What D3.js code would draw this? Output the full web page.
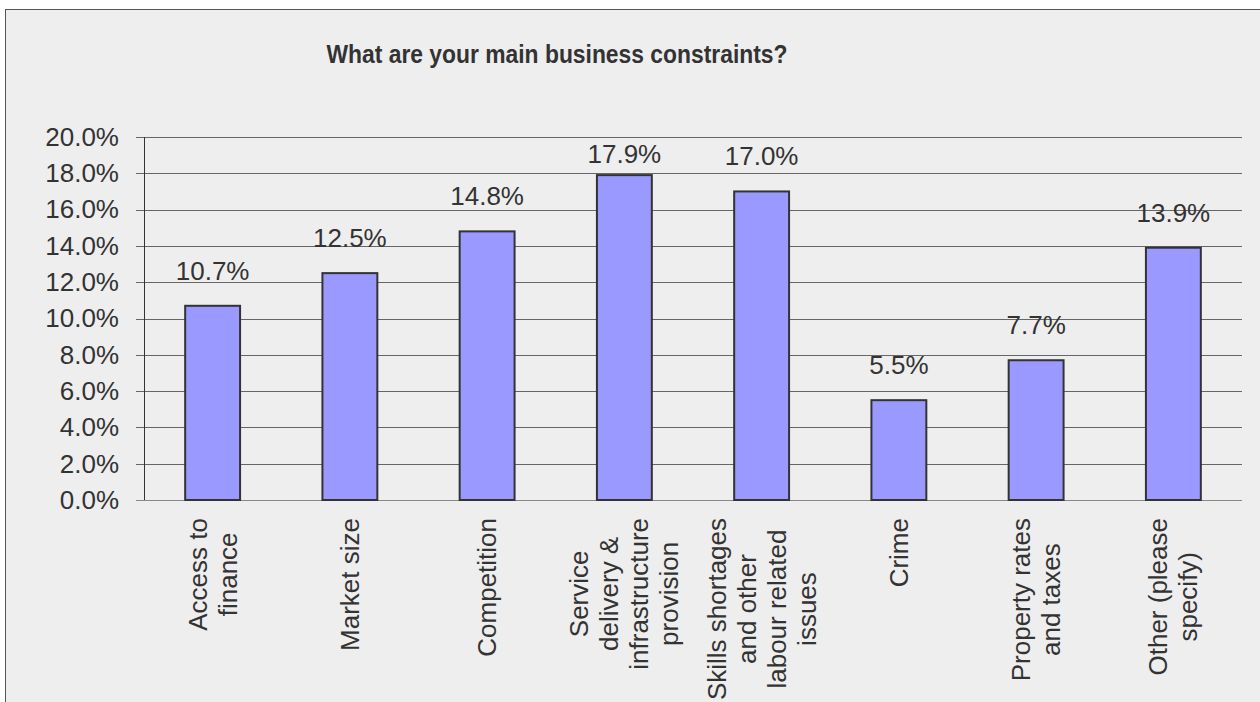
<!DOCTYPE html>
<html>
<head>
<meta charset="utf-8">
<script src="https://cdn.jsdelivr.net/npm/d3@7"></script>
<style>
  body { margin: 0; background: #fff; }
  text { font-family: "Liberation Sans", Arial, sans-serif; fill: #333; }
</style>
</head>
<body>
<svg id="chart" width="1260" height="702"></svg>
<script>
// chart data
const categories = [
    ["Access to", "finance"],
    ["Market size"],
    ["Competition"],
    ["Service", "delivery &", "infrastructure", "provision"],
    ["Skills shortages", "and other", "labour related", "issues"],
    ["Crime"],
    ["Property rates", "and taxes"],
    ["Other (please", "specify)"]
];
const values = [10.7, 12.5, 14.8, 17.9, 17.0, 5.5, 7.7, 13.9];
const yTicks = [0, 2, 4, 6, 8, 10, 12, 14, 16, 18, 20];
const title = "What are your main business constraints?";

const svg = d3.select("#chart");
const margin = { top: 137, right: 18, bottom: 202, left: 144 };
const width = 1260, height = 702;
const innerW = width - margin.left - margin.right;
const innerH = height - margin.top - margin.bottom;
const fs = 26;

// frame
svg.append("rect")
    .attr("x", 5.5).attr("y", 9.5)
    .attr("width", 1270).attr("height", 720)
    .attr("fill", "#eeeeee")
    .attr("stroke", "#555").attr("stroke-width", 1);

svg.append("text")
    .attr("x", 557).attr("y", 63)
    .attr("text-anchor", "middle")
    .attr("font-size", 25)
    .attr("font-weight", "bold")
    .attr("textLength", 461)
    .attr("lengthAdjust", "spacingAndGlyphs")
    .text(title);

const keys = categories.map((d, i) => i);
const x = d3.scaleBand().domain(keys).range([0, innerW]).paddingInner(0.6).paddingOuter(0.3);
const y = d3.scaleLinear().domain([0, 20]).range([innerH, 0]);

const g = svg.append("g").attr("transform", `translate(${margin.left},${margin.top})`);

// grid lines
g.append("g").selectAll("line")
    .data(yTicks)
    .join("line")
    .attr("x1", -8).attr("x2", innerW)
    .attr("y1", d => Math.round(y(d)) + 0.5).attr("y2", d => Math.round(y(d)) + 0.5)
    .attr("stroke", d => d === 0 ? "#888" : "#666").attr("stroke-width", 1);

// y axis
const yAxis = d3.axisLeft(y).tickValues(yTicks).tickSize(0).tickPadding(25)
    .tickFormat(d => d.toFixed(1) + "%");
const ya = g.append("g").call(yAxis);
ya.select(".domain").attr("stroke", "#333").attr("d", `M0.5,0V${innerH}`);
ya.selectAll("text").attr("font-size", fs).attr("fill", "#333")
    .attr("font-family", "Liberation Sans, Arial, sans-serif");

// bars
g.selectAll("rect.bar")
    .data(values)
    .join("rect")
    .attr("class", "bar")
    .attr("x", (d, i) => x(i))
    .attr("y", d => y(d))
    .attr("width", x.bandwidth())
    .attr("height", d => innerH - y(d))
    .attr("fill", "#9999ff")
    .attr("stroke", "#333").attr("stroke-width", 2);

// value labels, kept inside the plot top
g.selectAll("text.val")
    .data(values)
    .join("text")
    .attr("class", "val")
    .attr("x", (d, i) => x(i) + x.bandwidth() / 2)
    .attr("y", d => Math.max(y(d) - 26, 26))
    .attr("text-anchor", "middle")
    .attr("font-size", fs)
    .text(d => d.toFixed(1) + "%");

// category labels, rotated, top of the block at y=518
const lineH = 30;
categories.forEach((lines, i) => {
    const cx = margin.left + x(i) + x.bandwidth() / 2;
    const lg = svg.append("g");
    const ts = lines.map(l => lg.append("text").attr("font-size", fs).text(l));
    const maxLen = d3.max(ts, t => t.node().getComputedTextLength());
    const cy = 518 + maxLen / 2;
    const n = lines.length;
    ts.forEach((t, j) => {
        const bx = cx + (j - (n - 1) / 2) * lineH + 9;
        t.attr("text-anchor", "middle")
            .attr("transform", `translate(${bx},${cy}) rotate(-90)`);
    });
});
</script>
</body>
</html>
